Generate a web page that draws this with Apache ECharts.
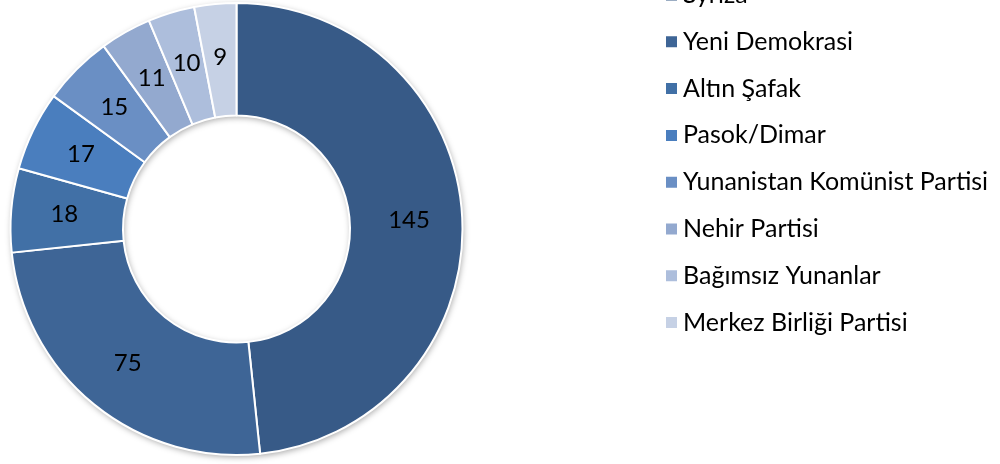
<!DOCTYPE html>
<html>
<head>
<meta charset="utf-8">
<script src="https://cdn.jsdelivr.net/npm/echarts@6/dist/echarts.min.js"></script>
<style>
html,body{margin:0;padding:0;background:#fff;}
#chart{width:1000px;height:464px;}
</style>
</head>
<body>
<div id="chart"></div>
<script>
const parties = ["Syriza","Yeni Demokrasi","Altın Şafak","Pasok/Dimar","Yunanistan Komünist Partisi","Nehir Partisi","Bağımsız Yunanlar","Merkez Birliği Partisi"];
const seats = [145,75,18,17,15,11,10,9];
const colors = ["#375a87","#3e6596","#4170a6","#4a7ebe","#6a8fc4","#93a9cf","#adbedc","#c6d1e5"];

const chart = echarts.init(document.getElementById('chart'), null, {renderer:'canvas'});
const FONT = 'Lato';
chart.setOption({
  animation:false,
  backgroundColor:'#ffffff',
  color: colors,
  legend:{
    orient:'vertical',
    left:664,
    top:-18,
    padding:0,
    itemWidth:13,
    itemHeight:13,
    itemGap:20.8,
    itemTextGap:7,
    icon:'rect',
    data: parties,
    textStyle:{fontFamily:FONT,fontSize:25,lineHeight:26,color:'#000000'}
  },
  series:[
    {
      type:'pie',
      silent:true,
      center:[236.5,229],
      radius:[113.5,226],
      label:{show:false},
      labelLine:{show:false},
      itemStyle:{color:'#ffffff',shadowBlur:6,shadowColor:'rgba(0,0,0,0.35)',shadowOffsetX:1,shadowOffsetY:2},
      data:[{value:1,name:'_bg'}],
      z:1
    },
    {
      type:'pie',
      center:[236.5,229],
      radius:[113.5,226],
      startAngle:90,
      clockwise:true,
      avoidLabelOverlap:false,
      itemStyle:{borderColor:'#ffffff',borderWidth:2},
      label:{show:true,position:'inside',formatter:'{c}',fontFamily:FONT,fontSize:24,color:'#000000'},
      labelLine:{show:false},
      emphasis:{disabled:true},
      data: parties.map((p,i)=>({name:p,value:seats[i],itemStyle:{color:colors[i]}})),
      z:2
    }
  ]
});
</script>
</body>
</html>
